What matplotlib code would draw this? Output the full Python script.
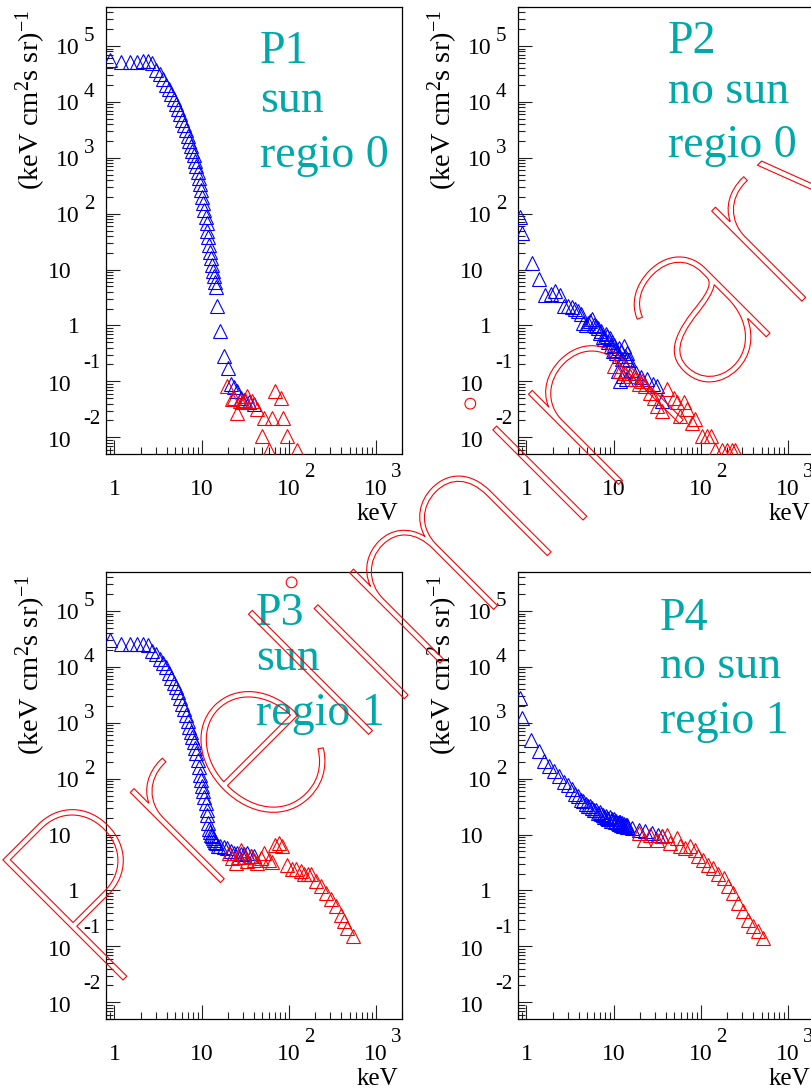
import numpy as np
import matplotlib
matplotlib.use("Agg")
import matplotlib.pyplot as plt
from matplotlib import transforms, font_manager, patheffects
from matplotlib.ticker import LogLocator, NullFormatter
from matplotlib.textpath import TextPath

# ---------------- data ----------------
p1_blue_x = [0.9, 1.2, 1.5, 1.8, 2.1, 2.4, 2.7, 3.0, 3.3, 3.6, 3.9, 4.2, 4.5, 4.8, 5.1,
             5.4, 5.7, 6.0, 6.3, 6.6, 6.9, 7.2, 7.5, 7.8, 8.1, 8.4, 8.7, 9.0, 9.3, 9.6,
             9.9, 10.2, 10.5, 10.8, 11.1, 11.4, 11.7, 12.0, 12.3, 12.6, 12.9, 13.2, 13.5,
             13.8, 14.1, 14.5, 15.1, 16.1, 18.1, 19.9, 21.6, 23.5, 25.7, 28.0, 30.6, 34.9, 39.9]
p1_blue_y = [5.6e4, 5.2e4, 5.2e4, 5.2e4, 5.4e4, 5.5e4, 5.0e4, 3.8e4, 3.1e4, 2.6e4, 2.0e4,
             1.7e4, 1.4e4, 1.15e4, 9.3e3, 7.6e3, 6.0e3, 4.8e3, 3.9e3, 3.2e3, 2.5e3, 2.0e3,
             1.6e3, 1.3e3, 1.1e3, 870, 710, 560, 440, 340, 270, 200, 155, 117, 89, 68, 50,
             38, 28, 21, 16, 12.3, 9.5, 7.6, 6.0, 4.8, 2.2, 0.79, 0.28, 0.17, 0.089, 0.079,
             0.066, 0.050, 0.047, 0.042, 0.039]
p1_red_x = [19.7, 22.5, 23.5, 25.7, 27.5, 29.3, 31.4, 33.5, 38.3, 43.6, 49.3, 52.0, 59.3,
            64.6, 70.4, 81.2, 86.9, 95.0, 126]
p1_red_y = [0.083, 0.048, 0.051, 0.0275, 0.045, 0.042, 0.047, 0.055, 0.045, 0.032, 0.0105,
            0.022, 0.0058, 0.022, 0.068, 0.051, 0.022, 0.0105, 0.0058]

p2_blue_x = [0.85, 0.9, 1.15, 1.4, 1.65, 1.9, 2.15, 2.4, 2.7, 3.0, 3.3, 3.6, 3.9, 4.2, 4.5,
             4.8, 5.1, 5.4, 5.7, 6.0, 6.3, 6.6, 6.9, 7.2, 7.5, 7.8, 8.1, 8.4, 8.7, 9.0, 9.3,
             9.6, 9.9, 10.2, 10.5, 10.8, 11.1, 11.4, 11.7, 12.0, 12.3, 12.6, 12.9, 13.2, 13.5,
             13.8, 14.1, 14.4, 15.0, 16.3, 18.0, 20.4, 24.3, 28.0, 31.6, 36.0]
p2_blue_y = [89, 46, 13.2, 6.8, 3.5, 3.7, 4.1, 3.5, 2.2, 2.2, 2.1, 2.0, 1.8, 1.6, 1.12, 1.0,
             1.12, 1.2, 1.3, 1.0, 0.98, 0.89, 0.74, 0.79, 0.63, 0.56, 0.71, 0.65, 0.50, 0.60,
             0.43, 0.50, 0.35, 0.45, 0.37, 0.32, 0.15, 0.40, 0.28, 0.10, 0.35, 0.25, 0.126,
             0.43, 0.28, 0.11, 0.32, 0.25, 0.245, 0.16, 0.14, 0.117, 0.11, 0.089, 0.083, 0.045]
p2_red_x = [10.1, 12.0, 13.5, 15.6, 17.5, 19.5, 21.0, 23.2, 26.5, 28.9, 31.6, 36.0, 41.1,
            49.0, 53.5, 58.4, 63.6, 69.5, 79.2, 86.5, 103, 118, 132, 146, 174, 199, 228, 248]
p2_red_y = [0.19, 0.15, 0.14, 0.126, 0.11, 0.089, 0.10, 0.083, 0.063, 0.051, 0.036, 0.030,
            0.072, 0.051, 0.042, 0.024, 0.042, 0.032, 0.018, 0.021, 0.0105, 0.0105, 0.0105,
            0.0058, 0.0058, 0.0058, 0.0058, 0.0058]

p3_blue_x = [0.9, 1.2, 1.5, 1.8, 2.1, 2.4, 2.7, 3.0, 3.3, 3.6, 3.9, 4.2, 4.5, 4.8, 5.1,
             5.4, 5.7, 6.0, 6.3, 6.6, 6.9, 7.2, 7.5, 7.8, 8.1, 8.4, 8.7, 9.0, 9.3, 9.6,
             9.9, 10.2, 10.5, 10.8, 11.1, 11.4, 11.7, 12.0, 12.3, 12.6, 12.9, 13.2, 13.5,
             13.8, 14.1, 14.5, 15.5, 16.5, 18.0, 19.7, 21.5, 23.5, 25.7, 28.0, 30.6, 33.5,
             36.5, 39.8]
p3_blue_y = [3.0e4, 2.6e4, 2.6e4, 2.6e4, 2.6e4, 2.5e4, 1.95e4, 1.7e4, 1.4e4, 1.2e4, 9.8e3,
             7.9e3, 6.3e3, 5.2e3, 4.3e3, 3.5e3, 2.8e3, 2.2e3, 1.8e3, 1.4e3, 1.07e3, 850, 690,
             560, 450, 355, 290, 215, 160, 117, 93, 74, 59, 47, 36, 28, 22, 16, 12.6, 11.2,
             10, 9.3, 8.5, 7.9, 7.4, 7.1, 6.3, 6.2, 5.9, 5.8, 5.0, 4.7, 4.6, 4.4, 4.5, 4.7,
             4.2, 4.1]
p3_red_x = [20.5, 22.5, 24.6, 26.5, 28.0, 30.5, 33.5, 37.0, 40.0, 43.6, 48.0, 52.0, 59.3,
            64.0, 70.4, 77.7, 84.2, 95.6, 109, 122, 137, 150, 165, 179, 204, 233, 265, 303,
            346, 395, 432, 472, 541]
p3_red_y = [4.7, 3.8, 3.1, 4.0, 5.4, 4.0, 3.3, 4.2, 3.5, 3.1, 3.8, 4.7, 3.5, 3.2, 6.6, 7.1,
            6.2, 2.8, 2.4, 2.4, 2.2, 2.0, 2.0, 2.0, 1.5, 1.2, 0.91, 0.69, 0.52, 0.37, 0.28,
            0.21, 0.15]

p4_blue_x = [0.85, 0.9, 1.12, 1.4, 1.6, 1.82, 2.08, 2.37, 2.7, 3.0, 3.3, 3.6, 3.9, 4.2, 4.5,
             4.8, 5.1, 5.4, 5.7, 6.0, 6.3, 6.6, 6.9, 7.2, 7.5, 7.8, 8.1, 8.4, 8.7, 9.0, 9.3,
             9.6, 9.9, 10.2, 10.5, 10.8, 11.1, 11.4, 11.7, 12.0, 12.3, 12.6, 12.9, 13.2, 13.5,
             13.8, 14.1, 14.4, 16.3, 19.5, 23.2, 27.7, 32.0, 36.0]
p4_blue_y = [2750, 1200, 500, 310, 204, 166, 135, 110, 89, 76, 65, 54, 48, 42, 40, 35, 33,
             32, 30, 28, 27, 24, 25, 23, 22.4, 20.4, 21.9, 20.0, 19.1, 20.4, 17.8, 19.1, 17.4,
             18.6, 16.6, 17.8, 15.8, 17.0, 15.5, 16.6, 14.8, 15.8, 14.5, 15.5, 14.1, 15.1,
             13.8, 14.8, 13.2, 12.3, 11.5, 10.7, 10.0, 9.3]
p4_red_x = [19.5, 22.2, 26.5, 31.6, 36.0, 41.1, 44.8, 53.5, 58.4, 66.5, 75.9, 86.5, 94.4,
            107, 123, 140, 160, 183, 207, 237, 270, 308, 352, 402, 458, 523]
p4_red_y = [10.7, 8.1, 10.0, 8.1, 9.3, 10.0, 7.1, 8.7, 6.2, 5.8, 6.2, 5.4, 4.1, 3.5, 2.9,
            2.5, 2.0, 1.7, 1.2, 0.91, 0.60, 0.43, 0.30, 0.23, 0.19, 0.14]

panel_labels = [["P1", "sun", "regio 0"],
                ["P2", "no sun", "regio 0"],
                ["P3", "sun", "regio 1"],
                ["P4", "no sun", "regio 1"]]
ytick_exps = [-2, -1, 0, 1, 2, 3, 4, 5]
xtick_exps = [0, 1, 2, 3]
x_title = "keV"
y_title = r"(keV cm$^{2}$s sr)$^{-1}$"
watermark = "Preliminary"

# ---------------- styling / layout ----------------
plt.rcParams["font.family"] = ["Liberation Serif", "DejaVu Serif"]
plt.rcParams["mathtext.fontset"] = "custom"
plt.rcParams["mathtext.rm"] = "Liberation Serif"
plt.rcParams["mathtext.it"] = "Liberation Serif:italic"
plt.rcParams["mathtext.bf"] = "Liberation Serif:bold"

W, H, DPI = 812, 1088, 100
fig = plt.figure(figsize=(W / DPI, H / DPI), dpi=DPI)
fig.patch.set_facecolor("white")

AX_W, AX_H = 296, 447
boxes = [(106, 7), (518, 7), (106, 572), (518, 572)]
# (left offset px, baseline offsets px from the frame top) for the panel labels
label_pos = [(154, [56, 105, 160]), (150, [46, 96, 150]),
             (150, [53, 98, 153]), (142, [58, 106, 161])]
TEAL = "#00A9A9"
BLUE = "#0000FF"
RED = "#FF0000"

datasets = [(p1_blue_x, p1_blue_y, p1_red_x, p1_red_y),
            (p2_blue_x, p2_blue_y, p2_red_x, p2_red_y),
            (p3_blue_x, p3_blue_y, p3_red_x, p3_red_y),
            (p4_blue_x, p4_blue_y, p4_red_x, p4_red_y)]


def off(trans, dx, dy):
    return transforms.offset_copy(trans, fig=fig, x=dx, y=dy, units="dots")


TICK_FS = 17
EXP_FS = 15

for i, (l, t) in enumerate(boxes):
    ax = fig.add_axes([l / W, 1 - (t + AX_H) / H, AX_W / W, AX_H / H])
    ax.set_xscale("log")
    ax.set_yscale("log")
    ax.set_xlim(0.8, 2000)
    ax.set_ylim(5e-3, 5e5)
    bx, by, rx, ry = datasets[i]
    ax.plot(bx, by, ls="none", marker="^", ms=9.5, mfc="none", mec=BLUE, mew=0.8, zorder=3)
    ax.plot(rx, ry, ls="none", marker="^", ms=9.5, mfc="none", mec=RED, mew=0.8, zorder=3)

    for sp in ax.spines.values():
        sp.set_linewidth(0.9)
        sp.set_color("black")
    ax.xaxis.set_major_locator(LogLocator(base=10, numticks=20))
    ax.xaxis.set_minor_locator(LogLocator(base=10, subs=np.arange(2, 10), numticks=20))
    ax.yaxis.set_major_locator(LogLocator(base=10, numticks=20))
    ax.yaxis.set_minor_locator(LogLocator(base=10, subs=np.arange(2, 10), numticks=20))
    ax.xaxis.set_minor_formatter(NullFormatter())
    ax.yaxis.set_minor_formatter(NullFormatter())
    ax.tick_params(which="both", direction="in", top=False, right=False,
                   labelleft=False, labelbottom=False, color="#222222", width=0.8)
    ax.tick_params(which="major", length=10)
    ax.tick_params(which="minor", length=5)

    # y tick labels (ROOT style)
    ytr = ax.get_yaxis_transform()
    for e in ytick_exps:
        v = 10.0 ** e
        if e == 0:
            ax.text(0, v, "1", transform=off(ytr, -26, -8), ha="right", va="baseline",
                    fontsize=TICK_FS, clip_on=False)
        elif e == 1:
            ax.text(0, v, "10", transform=off(ytr, -34, -8), ha="right", va="baseline",
                    fontsize=TICK_FS, clip_on=False)
        elif e >= 2:
            ax.text(0, v, "10", transform=off(ytr, -26, -8), ha="right", va="baseline",
                    fontsize=TICK_FS, clip_on=False)
            ax.text(0, v, str(e), transform=off(ytr, -22, 5), ha="left", va="baseline",
                    fontsize=EXP_FS, clip_on=False)
        else:
            ax.text(0, v, "10", transform=off(ytr, -34, -10), ha="right", va="baseline",
                    fontsize=TICK_FS, clip_on=False)
            ax.text(0, v, str(e), transform=off(ytr, -23, 13), ha="left", va="baseline",
                    fontsize=EXP_FS, clip_on=False)

    # x tick labels
    xtr = ax.get_xaxis_transform()
    for e in xtick_exps:
        v = 10.0 ** e
        if e == 0:
            ax.text(v, 0, "1", transform=off(xtr, 0, -41), ha="center", va="baseline",
                    fontsize=TICK_FS, clip_on=False)
        elif e == 1:
            ax.text(v, 0, "10", transform=off(xtr, 0, -41), ha="center", va="baseline",
                    fontsize=TICK_FS, clip_on=False)
        else:
            ax.text(v, 0, "10", transform=off(xtr, 0, -41), ha="center", va="baseline",
                    fontsize=TICK_FS, clip_on=False)
            ax.text(v, 0, str(e), transform=off(xtr, 15, -23), ha="left", va="baseline",
                    fontsize=EXP_FS, clip_on=False)

    ax.text(1, 0, x_title, transform=off(ax.transAxes, -4, -66), ha="right",
            va="baseline", fontsize=18, clip_on=False)
    ax.text(0, 1, y_title, transform=off(ax.transAxes, -75, -3), ha="center",
            va="top", rotation=90, fontsize=20.5, clip_on=False)

    lx, bls = label_pos[i]
    for s, bl in zip(panel_labels[i], bls):
        ax.text(0, 1, s, transform=off(ax.transAxes, lx, -bl), ha="left", va="baseline",
                fontsize=33, color=TEAL, clip_on=False)


# ---------------- hollow red watermark ----------------
def thin_font():
    cands = []
    for f in font_manager.fontManager.ttflist:
        if f.name in ("Roboto", "Lato", "Inter", "Open Sans", "DejaVu Sans", "Noto Sans") \
                and f.style == "normal":
            w = f.weight
            if isinstance(w, str):
                w = font_manager.weight_dict.get(w, 400)
            cands.append((w, f.name, f.fname))
    cands.sort()
    if cands:
        return font_manager.FontProperties(fname=cands[0][2])
    return font_manager.FontProperties(family="DejaVu Sans")


fp = thin_font()
tp = TextPath((0, 0), watermark[:9], size=100, prop=fp)
ext = tp.get_extents()
target_px = 915.0
size_pt = 100.0 * (target_px * 72.0 / DPI) / ext.width
lb_px = ext.x0 * size_pt / 100.0 * DPI / 72.0
s_base = 1103.0
u_anchor = -606.0 - lb_px
ax_x = (s_base + np.sqrt(2) * u_anchor) / 2.0
ay_s = (s_base - np.sqrt(2) * u_anchor) / 2.0
fp.set_size(size_pt)
fig.text(ax_x / W, 1 - ay_s / H, watermark, fontproperties=fp, rotation=45,
         rotation_mode="anchor", ha="left", va="baseline", color="none",
         path_effects=[patheffects.Stroke(linewidth=0.8, foreground=RED)], zorder=20)

fig.savefig("out.png", dpi=DPI, facecolor="white")
